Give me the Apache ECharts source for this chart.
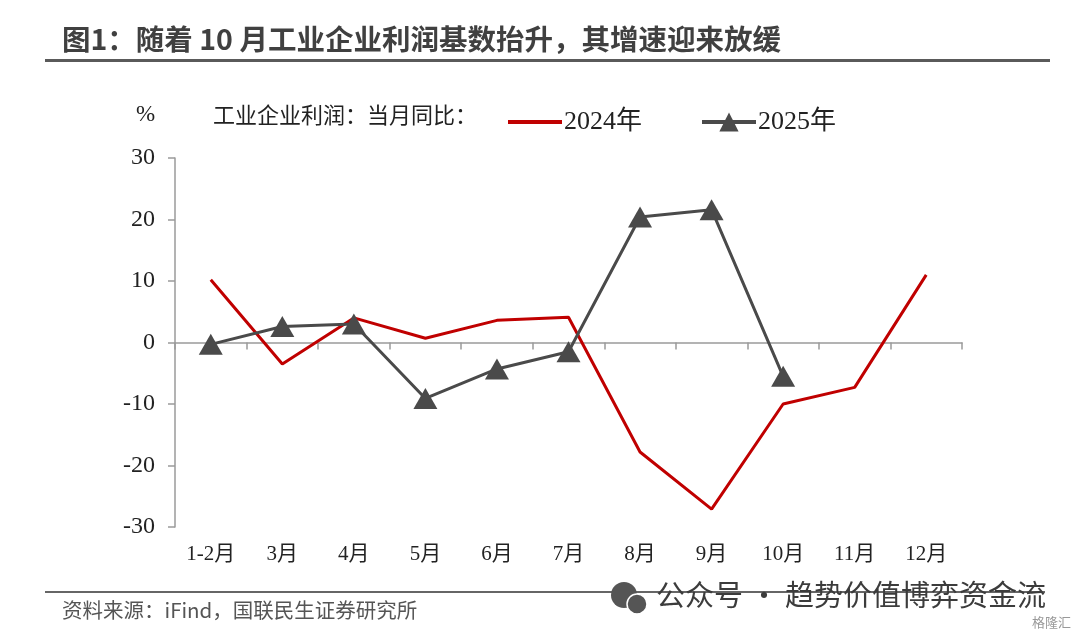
<!DOCTYPE html>
<html>
<head>
<meta charset="utf-8">
<script src="https://cdn.jsdelivr.net/npm/echarts@6/dist/echarts.min.js"></script>
<style>
  html, body { margin: 0; padding: 0; background: #fff; }
  #chart { width: 1080px; height: 640px; }
</style>
</head>
<body>
<div id="chart"></div>
<script>
// 数据
const months = ['1-2月', '3月', '4月', '5月', '6月', '7月', '8月', '9月', '10月', '11月', '12月'];
const profit2024 = [10.2, -3.5, 4.0, 0.7, 3.6, 4.1, -17.8, -27.1, -10.0, -7.3, 11.0];
const profit2025 = [-0.3, 2.6, 3.0, -9.1, -4.3, -1.5, 20.4, 21.6, -5.5, null, null];
const yTicks = [-30, -20, -10, 0, 10, 20, 30];

const serif = '"Liberation Serif", "Noto Sans CJK SC", serif';
const sans = '"Noto Sans CJK SC", "Noto Sans", sans-serif';

const chart = echarts.init(document.getElementById('chart'));

const option = {
  backgroundColor: '#fff',
  animation: false,
  grid: { left: 175, right: 118, top: 158, bottom: 113 },
  legend: {
    left: 503,
    top: 104,
    itemGap: 58,
    itemWidth: 54,
    itemHeight: 24,
    textStyle: { fontFamily: serif, fontSize: 26, color: '#222', padding: [0, 0, 0, -3] },
    data: [
      { name: '2024年', icon: 'path://M0,10 L54,10 L54,14 L0,14 Z', itemStyle: { color: '#C00000' } },
      { name: '2025年', lineStyle: { width: 4, color: '#4a4a4a' } }
    ]
  },
  xAxis: {
    type: 'category',
    data: months,
    boundaryGap: true,
    axisLine: { onZero: true, lineStyle: { color: '#9a9a9a', width: 1.5 } },
    axisTick: { show: true, alignWithLabel: false, inside: false, length: 7, lineStyle: { color: '#9a9a9a', width: 1.5 } },
    axisLabel: {
      interval: 0,
      fontFamily: serif,
      fontSize: 21,
      color: '#222',
      margin: 17
    }
  },
  yAxis: {
    type: 'value',
    min: yTicks[0],
    max: yTicks[yTicks.length - 1],
    interval: 10,
    splitLine: { show: false },
    axisLine: { show: true, lineStyle: { color: '#9a9a9a', width: 1.5 } },
    axisTick: { show: true, length: 7, lineStyle: { color: '#9a9a9a', width: 1.5 } },
    axisLabel: { fontFamily: serif, fontSize: 24, color: '#222', margin: 20 }
  },
  series: [
    {
      name: '2024年',
      type: 'line',
      data: profit2024,
      showSymbol: false,
      symbol: 'none',
      lineStyle: { color: '#C00000', width: 3 },
      itemStyle: { color: '#C00000' },
      z: 2
    },
    {
      name: '2025年',
      type: 'line',
      data: profit2025,
      connectNulls: false,
      symbol: 'triangle',
      symbolSize: [24, 21],
      lineStyle: { color: '#4a4a4a', width: 3 },
      itemStyle: { color: '#4a4a4a' },
      z: 3
    }
  ],
  graphic: [
    // 标题
    {
      type: 'text', left: 62, top: 25,
      style: { text: '图1：随着 10 月工业企业利润基数抬升，其增速迎来放缓', fontFamily: sans, fontSize: 28.5, fontWeight: 'bold', fill: '#404040' }
    },
    {
      type: 'rect', shape: { x: 45, y: 59, width: 1005, height: 3 },
      style: { fill: '#5a5a5a' }
    },
    // 单位与图例前缀
    {
      type: 'text', left: 136, top: 103,
      style: { text: '%', fontFamily: serif, fontSize: 23, fill: '#222' }
    },
    {
      type: 'text', left: 213, top: 104,
      style: { text: '工业企业利润：当月同比：', fontFamily: sans, fontSize: 22, fill: '#222' }
    },
    // 底部
    {
      type: 'rect', shape: { x: 45, y: 591, width: 1000, height: 2 },
      style: { fill: '#666' }
    },
    {
      type: 'text', left: 62, top: 600,
      style: { text: '资料来源：iFind，国联民生证券研究所', fontFamily: sans, fontSize: 20.5, fill: '#555' }
    },
    {
      type: 'text', left: 656, top: 580,
      style: { text: '公众号 · 趋势价值博弈资金流', fontFamily: sans, fontSize: 29, fill: '#3c3c3c' }
    },
    {
      type: 'circle', shape: { cx: 624, cy: 595, r: 13 },
      style: { fill: '#555' }
    },
    {
      type: 'circle', shape: { cx: 637, cy: 604, r: 10 },
      style: { fill: '#555', stroke: '#fff', lineWidth: 1.5 }
    },
    {
      type: 'text', left: 1032, top: 616,
      style: { text: '格隆汇', fontFamily: sans, fontSize: 13, fill: '#999' }
    }
  ]
};

chart.setOption(option);
window.addEventListener('resize', () => chart.resize());
</script>
</body>
</html>
